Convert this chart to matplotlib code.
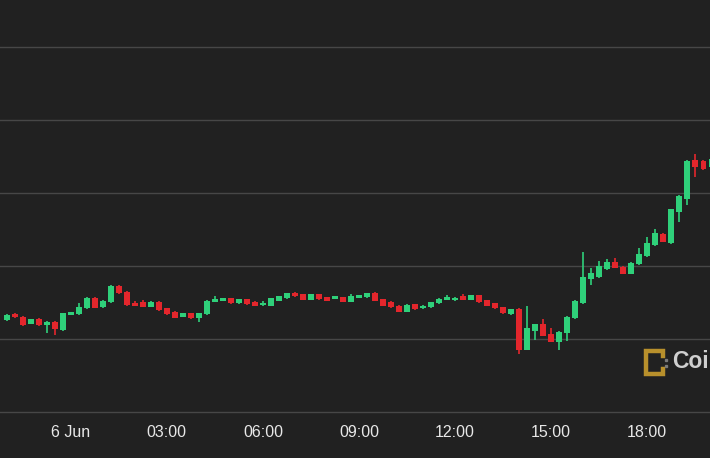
import numpy as np
import pandas as pd
import matplotlib
matplotlib.use("Agg")
import matplotlib.pyplot as plt
import matplotlib.dates as mdates
from matplotlib.lines import Line2D

# --- 15-minute candles, 5 Jun 22:00 onwards ---
times = pd.date_range("2023-06-05 22:00", periods=89, freq="15min")

opens = [25630, 25671, 25653, 25603, 25637, 25596, 25616, 25562, 25671, 25669,
         25712, 25781, 25719, 25753, 25865, 25824, 25747, 25756, 25721, 25753,
         25712, 25687, 25651, 25678, 25644, 25669, 25756, 25760, 25779, 25747,
         25772, 25756, 25731, 25728, 25762, 25779, 25817, 25808, 25767, 25808,
         25786, 25776, 25786, 25756, 25783, 25786, 25817, 25772, 25751, 25728,
         25687, 25738, 25710, 25719, 25747, 25767, 25764, 25794, 25767, 25798,
         25764, 25745, 25717, 25669, 25703, 25428, 25558, 25601, 25534, 25481,
         25541, 25642, 25745, 25911, 25923, 25979, 26029, 25995, 25945, 26012,
         26066, 26142, 26221, 26155, 26372, 26459, 26726, 26719, 26676]
highs = [25671, 25678, 25658, 25640, 25642, 25623, 25620, 25681, 25688, 25747,
         25785, 25785, 25766, 25869, 25869, 25828, 25760, 25767, 25757, 25757,
         25715, 25690, 25681, 25681, 25681, 25766, 25794, 25782, 25782, 25777,
         25775, 25760, 25760, 25782, 25797, 25816, 25820, 25811, 25811, 25811,
         25789, 25794, 25789, 25808, 25804, 25816, 25820, 25775, 25762, 25731,
         25737, 25742, 25731, 25756, 25780, 25798, 25787, 25805, 25801, 25801,
         25767, 25749, 25721, 25707, 25712, 25723, 25604, 25637, 25572, 25553,
         25656, 25764, 26094, 25984, 26034, 26048, 26057, 25999, 26026, 26121,
         26199, 26251, 26224, 26392, 26485, 26725, 26767, 26723, 26735]
lows = [25623, 25644, 25592, 25600, 25592, 25541, 25527, 25555, 25664, 25664,
        25708, 25710, 25715, 25750, 25808, 25729, 25726, 25718, 25718, 25695,
        25667, 25642, 25648, 25640, 25618, 25665, 25753, 25757, 25742, 25740,
        25735, 25725, 25728, 25725, 25759, 25776, 25791, 25764, 25764, 25768,
        25759, 25773, 25753, 25753, 25780, 25783, 25757, 25725, 25714, 25683,
        25683, 25700, 25707, 25712, 25743, 25764, 25760, 25767, 25764, 25750,
        25726, 25707, 25671, 25665, 25395, 25424, 25490, 25518, 25478, 25425,
        25483, 25639, 25742, 25870, 25920, 25976, 25984, 25942, 25942, 26008,
        26062, 26138, 26162, 26152, 26303, 26418, 26612, 26660, 26673]
closes = [25664, 25651, 25596, 25637, 25596, 25616, 25568, 25678, 25680, 25721,
          25781, 25714, 25762, 25865, 25817, 25733, 25728, 25721, 25753, 25699,
          25671, 25646, 25678, 25644, 25678, 25762, 25774, 25779, 25745, 25774,
          25738, 25728, 25749, 25779, 25794, 25813, 25794, 25767, 25808, 25772,
          25762, 25790, 25756, 25794, 25801, 25813, 25760, 25728, 25717, 25687,
          25733, 25703, 25728, 25753, 25777, 25784, 25784, 25770, 25798, 25753,
          25729, 25710, 25675, 25703, 25425, 25573, 25601, 25521, 25481, 25550,
          25653, 25760, 25927, 25950, 26000, 26029, 25988, 25945, 26023, 26082,
          26157, 26224, 26166, 26389, 26481, 26721, 26680, 26664, 26731]

grid_levels = [25000, 25500, 26000, 26500, 27000, 27500]

BG = "#212121"
GREEN = "#2fd07a"
RED = "#e3262c"

fig = plt.figure(figsize=(7.1, 4.58), dpi=100, facecolor=BG)
ax = fig.add_axes([0, 44 / 458, 1, 414 / 458], facecolor=BG)

o = np.array(opens, float)
h = np.array(highs, float)
l = np.array(lows, float)
c = np.array(closes, float)
x = mdates.date2num(times)
step = 15 / 1440

colors = np.where(c >= o, GREEN, RED)
ax.vlines(x, l, h, colors=colors, lw=1.2, zorder=3)
body = np.maximum(np.abs(c - o), 20)
mid = (o + c) / 2
ax.bar(x, body, width=0.7 * step, bottom=mid - body / 2, color=colors,
       linewidth=0, zorder=4)

ax.set_xlim(x[0] - 6.7 / 8.007 * step, x[0] + 703.3 / 8.007 * step)
ax.set_ylim(25000 - 2 * 500 / 73, 25000 + 412 * 500 / 73)

ax.set_yticks(grid_levels)
ax.yaxis.grid(True, color="#474747", lw=1)
ax.set_axisbelow(True)
ax.tick_params(axis="y", length=0, labelleft=False)


def fmt(v, pos=None):
    d = mdates.num2date(v)
    if d.hour == 0:
        return f"{d.day} {d:%b}"
    return f"{d:%H:%M}"


ax.xaxis.set_major_locator(mdates.HourLocator(byhour=range(0, 24, 3)))
ax.xaxis.set_major_formatter(plt.FuncFormatter(fmt))
ax.tick_params(axis="x", length=0, pad=8, labelsize=11.5, labelcolor="#e8e8e8")
for lab in ax.get_xticklabels():
    lab.set_family(["Liberation Sans", "DejaVu Sans"])
for s in ax.spines.values():
    s.set_visible(False)

# watermark (CoinDesk logo, cut off by the right edge)
def fx(px):
    return px / 710


def fy(py):
    return 1 - py / 458


gold = "#b8902c"
fig.add_artist(Line2D([fx(663), fx(663), fx(646), fx(646), fx(663), fx(663)],
                      [fy(356), fy(351), fy(351), fy(374), fy(374), fy(369)],
                      color=gold, lw=3.2, solid_joinstyle="miter"))
fig.add_artist(Line2D([fx(666), fx(666)], [fy(360), fy(366)], ls="none",
                      marker="s", ms=1.4, color="#7a7a7a"))
fig.text(fx(672), fy(362), "Coi", fontsize=16.5, fontweight="bold",
         color="#cfcfcf", ha="left", va="center",
         family=["Liberation Sans", "DejaVu Sans"])

fig.savefig("out.png", dpi=100, facecolor=BG)
